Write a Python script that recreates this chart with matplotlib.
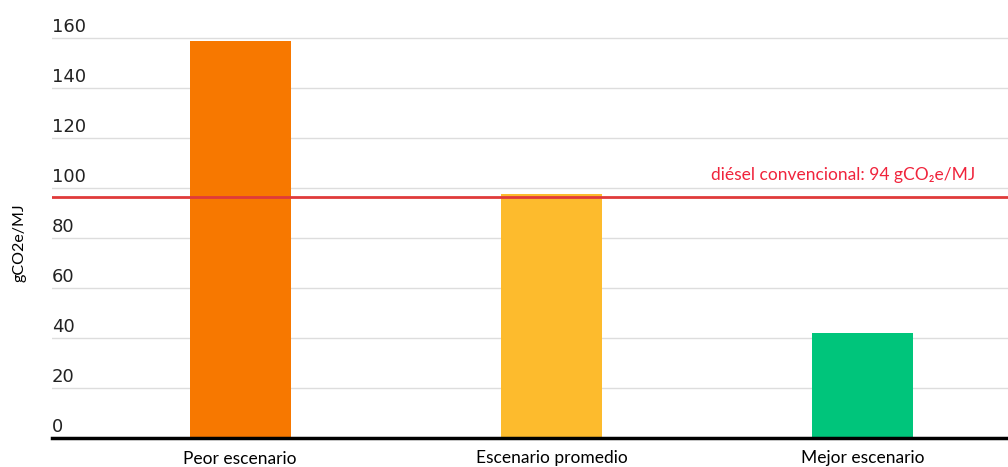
import matplotlib.pyplot as plt
import matplotlib.transforms as mtransforms

# data
categories = ['Peor escenario', 'Escenario promedio', 'Mejor escenario']
values = [158.8, 97.6, 42.0]
bar_colors = ['#f77800', '#fdbb2d', '#00c57b']
diesel_level = 96.5
diesel_label = 'diésel convencional: 94 gCO₂e/MJ'
y_ticks = [0, 20, 40, 60, 80, 100, 120, 140, 160]

fig = plt.figure(figsize=(10.08, 4.67), dpi=100)
ax = fig.add_axes([52/1008, 29/467, 1 - 52/1008, 1 - 29/467])

x = range(len(categories))
ax.bar(x, values, width=0.324, color=bar_colors, zorder=2)

ax.axhline(diesel_level, color='#e03a3a', lw=2, zorder=3)
ax.text(0.9655, diesel_level + 8.5, diesel_label, color='#f0243c', fontsize=12.5,
        family=['Lato', 'DejaVu Sans'], ha='right', va='center',
        transform=ax.get_yaxis_transform())

ax.set_xlim(-0.604, 2.466)
ax.set_ylim(0, 175.2)
ax.set_yticks(y_ticks)
ax.set_xticks(list(x))
ax.set_xticklabels(categories, fontsize=12.5, family='Lato')
ax.tick_params(axis='x', length=0, pad=9)
ax.tick_params(axis='y', length=0, pad=0, labelsize=13, labelcolor='#222222')

offset = mtransforms.ScaledTranslation(0, 1.2/72, fig.dpi_scale_trans)
for lab in ax.get_yticklabels():
    lab.set_ha('left')
    lab.set_va('bottom')
    lab.set_transform(lab.get_transform() + offset)

ax.grid(axis='y', color='#dddddd', lw=1, zorder=0)
ax.set_axisbelow(True)
for s in ['top', 'right', 'left']:
    ax.spines[s].set_visible(False)
ax.spines['bottom'].set_color('black')
ax.spines['bottom'].set_linewidth(2.5)
ax.spines['bottom'].set_zorder(4)

fig.text(20/1008, 1 - 243/467, 'gCO2e/MJ', rotation=90, fontsize=11.5,
         family='Lato', ha='center', va='center')

fig.savefig('out.png', dpi=100)
